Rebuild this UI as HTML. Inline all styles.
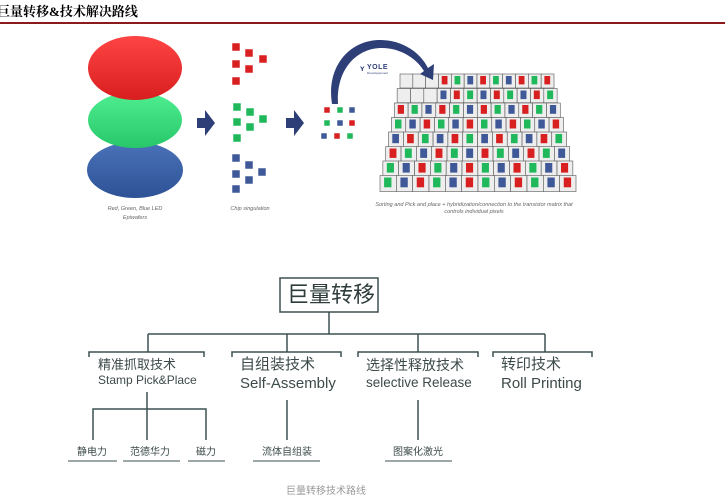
<!DOCTYPE html>
<html><head><meta charset="utf-8"><style>
body{margin:0;width:725px;height:501px;background:#fff;overflow:hidden;position:relative;font-family:"Liberation Sans","Noto Sans CJK SC",sans-serif}
.t{position:absolute;white-space:nowrap;color:#3d4a4a}
</style></head><body>
<div class="t" style="left:-3px;top:1px;font:bold 13px 'Liberation Serif','Noto Serif CJK SC',serif;color:#000">巨量转移&amp;技术解决路线</div>
<div style="position:absolute;left:0;top:22px;width:725px;height:2px;background:#8b1a1a"></div>
<svg width="725" height="501" style="position:absolute;left:0;top:0">
<defs>
<linearGradient id="gr" x1="0" y1="0" x2="0" y2="1"><stop offset="0" stop-color="#f44"/><stop offset="1" stop-color="#d81e1e"/></linearGradient>
<linearGradient id="gg" x1="0" y1="0" x2="0" y2="1"><stop offset="0" stop-color="#4fee90"/><stop offset="1" stop-color="#28c86a"/></linearGradient>
<linearGradient id="gb" x1="0" y1="0" x2="0" y2="1"><stop offset="0" stop-color="#4a72b8"/><stop offset="1" stop-color="#2e5296"/></linearGradient>
</defs>
<ellipse cx="135" cy="170" rx="48" ry="28" fill="url(#gb)"/>
<ellipse cx="135" cy="120" rx="47" ry="28" fill="url(#gg)"/>
<ellipse cx="135" cy="68" rx="47" ry="32" fill="url(#gr)"/>
<text x="135" y="210" font-size="5.5" font-style="italic" fill="#666" text-anchor="middle">Red, Green, Blue LED</text>
<text x="135" y="219" font-size="5.5" font-style="italic" fill="#666" text-anchor="middle">Epiwafers</text>
<polygon points="197,118 205,118 205,110 215,123 205,136 205,128 197,128" fill="#2e3f78"/>
<polygon points="286,118 294,118 294,110 304,123 294,136 294,128 286,128" fill="#2e3f78"/>
<g stroke="#fff" stroke-width="0.5">
<g fill="#d82020"><rect x="232" y="43" width="8" height="8"/><rect x="245" y="49" width="8" height="8"/><rect x="259" y="55" width="8" height="8"/><rect x="232" y="60" width="8" height="8"/><rect x="245" y="65" width="8" height="8"/><rect x="232" y="77" width="8" height="8"/></g>
<g fill="#1fb85a"><rect x="233" y="103" width="8" height="8"/><rect x="246" y="108" width="8" height="8"/><rect x="259" y="115" width="8" height="8"/><rect x="233" y="118" width="8" height="8"/><rect x="246" y="123" width="8" height="8"/><rect x="233" y="134" width="8" height="8"/></g>
<g fill="#3f5898"><rect x="232" y="154" width="8" height="8"/><rect x="245" y="161" width="8" height="8"/><rect x="258" y="168" width="8" height="8"/><rect x="232" y="170" width="8" height="8"/><rect x="245" y="176" width="8" height="8"/><rect x="232" y="185" width="8" height="8"/></g>
<rect x="324" y="107" width="6" height="6" fill="#d82020"/><rect x="337" y="107" width="6" height="6" fill="#1fb85a"/><rect x="349" y="107" width="6" height="6" fill="#3f5898"/>
<rect x="324" y="120" width="6" height="6" fill="#1fb85a"/><rect x="337" y="120" width="6" height="6" fill="#3f5898"/><rect x="349" y="120" width="6" height="6" fill="#d82020"/>
<rect x="321" y="133" width="6" height="6" fill="#3f5898"/><rect x="334" y="133" width="6" height="6" fill="#d82020"/><rect x="347" y="133" width="6" height="6" fill="#1fb85a"/>
</g>
<text x="250" y="210" font-size="5.5" font-style="italic" fill="#666" text-anchor="middle">Chip singulation</text>
<g id="grid"></g>
<path d="M332,104 C326,66 350,40 380,40 C402,40 420,52 428,68 L434,64 L433,80 L420,74 L424,71 C416,58 400,48 382,48 C356,48 336,70 338,104 Z" fill="#2e3f78"/>
<text x="360" y="71" font-size="8" fill="#2e3f78" font-weight="bold">ʏ</text>
<text x="367" y="69" font-size="7" fill="#2e3f78" font-weight="bold" letter-spacing="0.5">YOLE</text>
<text x="367" y="74" font-size="3" fill="#2e3f78">Développement</text>
<text x="474" y="206" font-size="5.5" font-style="italic" fill="#666" text-anchor="middle">Sorting and Pick and place + hybridization/connection to the transistor matrix that</text>
<text x="474" y="213" font-size="5.5" font-style="italic" fill="#666" text-anchor="middle">controls individual pixels</text>
<g stroke="#3d5050" stroke-width="1.5" fill="none">
<rect x="280" y="278" width="98" height="34" stroke-width="1.5"/>
<path d="M329,312V334M148,334H545M148,334V352M287,334V352M418,334V352M545,334V352"/>
<path d="M89,357V352H204V357M232,357V352H341V357M358,357V352H478V357M493,357V352H592V357"/>
<path d="M147,392V409M93,440V409H206V440M147,409V440M287,400V440M418,400V440"/>
</g>
<g stroke="#3d5050" stroke-width="1">
<path d="M68,461H117M123,461H180M188,461H225M253,461H320M385,461H452"/>
</g>
</svg>
<div class="t" style="left:287px;top:280px;font-size:22px;line-height:30px;color:#2f3c3c">巨量转移</div>
<div class="t" style="left:98px;top:357px;font-size:13px;line-height:16px">精准抓取技术</div>
<div class="t" style="left:98px;top:372px;font-size:12px;line-height:16px">Stamp Pick&amp;Place</div>
<div class="t" style="left:240px;top:356px;font-size:15px;line-height:18px">自组装技术</div>
<div class="t" style="left:240px;top:375px;font-size:15px;line-height:18px">Self-Assembly</div>
<div class="t" style="left:366px;top:356px;font-size:14px;line-height:18px">选择性释放技术</div>
<div class="t" style="left:366px;top:374px;font-size:13.5px;line-height:18px">selective Release</div>
<div class="t" style="left:501px;top:356px;font-size:15px;line-height:18px">转印技术</div>
<div class="t" style="left:501px;top:375px;font-size:15px;line-height:18px">Roll Printing</div>
<div class="t" style="left:77px;top:443px;font-size:10px">静电力</div>
<div class="t" style="left:130px;top:443px;font-size:10px">范德华力</div>
<div class="t" style="left:196px;top:443px;font-size:10px">磁力</div>
<div class="t" style="left:262px;top:443px;font-size:10px">流体自组装</div>
<div class="t" style="left:393px;top:443px;font-size:10px">图案化激光</div>
<div class="t" style="left:286px;top:482px;font-size:10px;color:#999">巨量转移技术路线</div>
<script>
var g=document.getElementById('grid'),s='',cols=['#d82020','#1fb85a','#3f5898'];
var pat=[[3,3,3,0,1,2,0,1,2,0,1,0],[3,3,3,2,0,1,2,0,1,2,0,1],[0,1,2,0,1,2,0,1,2,0,1,2],[1,2,0,1,2,0,1,2,0,1,2,0],[2,0,1,2,0,1,2,0,1,2,0,1],[0,1,2,0,1,2,0,1,2,0,1,2],[1,2,0,1,2,0,1,2,0,1,2,0],[1,2,0,1,2,0,1,2,0,1,2,0]];
for(var r=0;r<8;r++){var t=r/7,y=74+r*14.5,x0=400-20*t,x1=554+22*t,w=(x1-x0)/12,h=12+2*t;
for(var c=0;c<12;c++){var x=x0+c*w;s+='<rect x="'+x+'" y="'+y+'" width="'+w+'" height="'+(h+2)+'" fill="#eee" stroke="#555" stroke-width="0.6"/>';
var p=pat[r][c];if(p<3)s+='<rect x="'+(x+w*0.25)+'" y="'+(y+2)+'" width="'+(w*0.45)+'" height="'+(h*0.7)+'" fill="'+cols[p]+'"/>';}}
g.innerHTML=s;
</script>
</body></html>
